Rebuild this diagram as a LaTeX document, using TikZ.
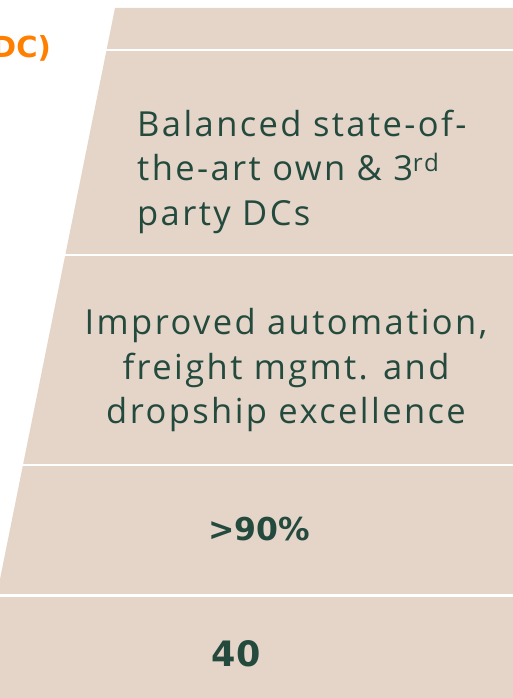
\documentclass[tikz,border=0pt]{standalone}
\usepackage{fontspec}
\usetikzlibrary{positioning}

\newfontfamily\rowfont[LetterSpace=7]{Open Sans}
\newfontfamily\figfont{DejaVu Sans}
\definecolor{sand}{HTML}{E5D5C8}
\definecolor{pine}{HTML}{244A3E}
\definecolor{tangerine}{HTML}{FF8000}

\tikzset{
  rowtext/.style = {text = pine, inner sep = 0pt, font = \rowfont\fontsize{34.5}{44.2}\selectfont},
  figtext/.style = {text = pine, inner sep = 0pt, font = \figfont\bfseries},
  rowline/.style = {draw = white, line width = 2.7pt}
}

\begin{document}
\begin{tikzpicture}[x = 1pt, y = -1pt]
\useasboundingbox (0,0) rectangle (513,698);
% slanted band, cut at the left page edge
\fill[sand] (115,8) -- (513,8) -- (513,698) -- (0,698) -- (0,579) -- cycle;
\foreach \y in {50,255,465,595.5}
  \draw[rowline] (0,\y) -- (513,\y);

% base anchor sits on the last line here
\node[rowtext, anchor = base west, align = left] (dcmix) at (137,225)
  {Balanced state-of-\\the-art own \& 3\textsuperscript{rd}\\party DCs};
\node[rowtext, anchor = base, align = center] (ops) at (286,423.3)
  {Improved automation,\\freight mgmt. and\\dropship excellence};
\node[figtext, font = \figfont\bfseries\fontsize{31.5}{34}\selectfont, anchor = base] (share) at (259,540) {>90\%};
\node[figtext, font = \figfont\bfseries\fontsize{35}{40}\selectfont, anchor = base] (count) at (236,666.7) {40};
\node[text = tangerine, inner sep = 0pt, font = \figfont\bfseries\fontsize{29}{32}\selectfont, anchor = base east] (dchead) at (51,58) {DC)};
\end{tikzpicture}
\end{document}
